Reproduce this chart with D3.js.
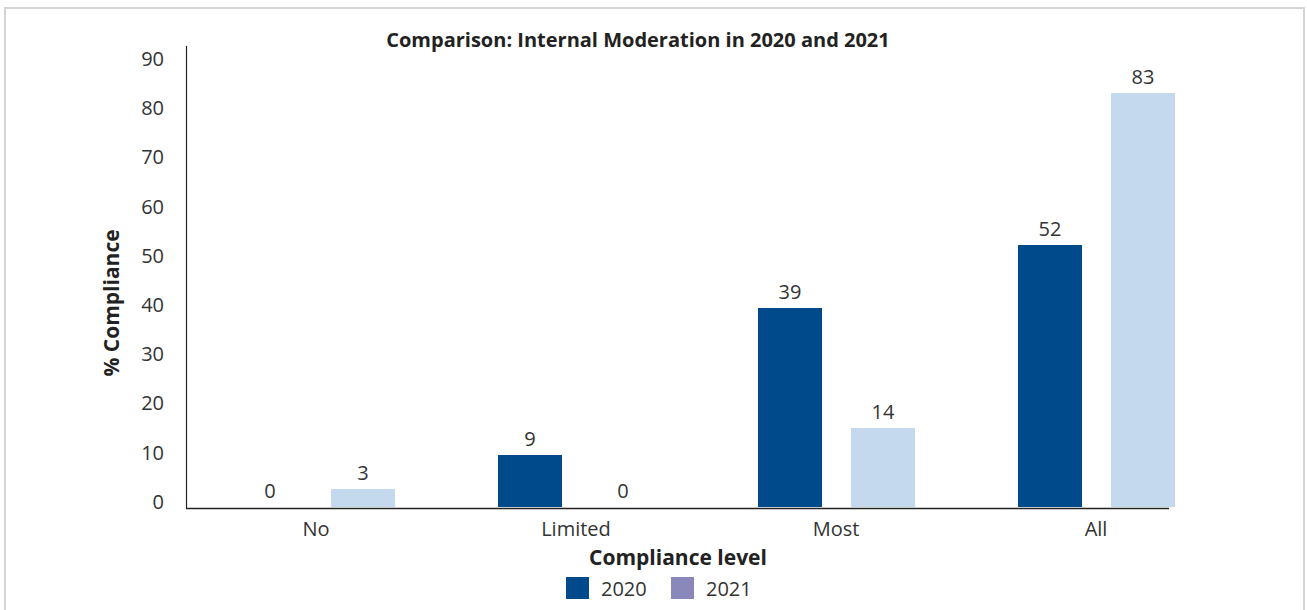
<!DOCTYPE html>
<html>
<head>
<meta charset="utf-8">
<script src="https://cdn.jsdelivr.net/npm/d3@7"></script>
<style>
  body { margin: 0; background: #fff; }
  svg { display: block; font-family: 'Open Sans', sans-serif; }
  .tick text { fill: #333; }
</style>
</head>
<body>
<svg width="1307" height="610"></svg>
<script>
const categories = ['No', 'Limited', 'Most', 'All']
const years = ['2020', '2021']
// bar heights as drawn in the original (labels there are rounded differently)
const values2020 = [0, 10.4, 39.8, 52.4]
const values2021 = [3.6, 0, 15.8, 82.8]
// printed data labels
const labels2020 = [0, 9, 39, 52]
const labels2021 = [3, 0, 14, 83]
const yTicks = [0, 10, 20, 30, 40, 50, 60, 70, 80, 90]

const colors = { '2020': '#004a8c', '2021': '#c5d9ee' }
const legendColors = { '2020': '#004a8c', '2021': '#8a88ba' }

const svg = d3.select('svg')

// outer frame
svg.append('rect')
  .attr('x', 5).attr('y', 8)
  .attr('width', 1299).attr('height', 620)
  .attr('fill', 'none')
  .attr('stroke', '#d4d4d4')
  .attr('stroke-width', 2)

const xScale = d3.scaleBand()
  .domain(categories)
  .range([186, 1226])

const xInner = d3.scaleBand()
  .domain(years)
  .range([52, 209])
  .paddingInner(29 / 93)

const yScale = d3.scaleLinear()
  .domain([0, 90])
  .range([507, 57])

// tick labels in the original sit a little above their gridline values
const yLabelScale = d3.scaleLinear()
  .domain([0, 90])
  .range([502, 59])

const data = categories.map((c, i) => ({
  category: c,
  values: [
    { year: '2020', value: values2020[i], label: labels2020[i] },
    { year: '2021', value: values2021[i], label: labels2021[i] }
  ]
}))

// y axis
const yAxis = d3.axisLeft(yLabelScale)
  .tickValues(yTicks)
  .tickSize(0)
  .tickPadding(22)

const yAxisGroup = svg.append('g')
  .attr('transform', 'translate(186,0)')
  .call(yAxis)
yAxisGroup.select('.domain').remove()
yAxisGroup.selectAll('.tick text')
  .attr('font-size', 20)
  .attr('font-family', "'Open Sans', sans-serif")

svg.append('line')
  .attr('x1', 186.5).attr('x2', 186.5)
  .attr('y1', 46).attr('y2', 508)
  .attr('stroke', '#222').attr('stroke-width', 1.2)

// bars
const groups = svg.selectAll('.group')
  .data(data)
  .join('g')
  .attr('class', 'group')
  .attr('transform', d => `translate(${xScale(d.category)},0)`)

groups.selectAll('rect')
  .data(d => d.values)
  .join('rect')
  .attr('x', d => xInner(d.year))
  .attr('width', xInner.bandwidth())
  .attr('y', d => yScale(d.value))
  .attr('height', d => yScale(0) - yScale(d.value))
  .attr('fill', d => colors[d.year])

groups.selectAll('.label')
  .data(d => d.values)
  .join('text')
  .attr('class', 'label')
  .attr('x', d => xInner(d.year) + xInner.bandwidth() / 2)
  .attr('y', d => yScale(d.value) - 9)
  .attr('text-anchor', 'middle')
  .attr('font-size', 20)
  .attr('fill', '#333')
  .text(d => d.label)

// x axis
const xAxis = d3.axisBottom(xScale)
  .tickSize(0)
  .tickPadding(14)

const xAxisGroup = svg.append('g')
  .attr('transform', 'translate(0,508)')
  .call(xAxis)
xAxisGroup.select('.domain').remove()
xAxisGroup.selectAll('.tick text')
  .attr('font-size', 20)
  .attr('font-family', "'Open Sans', sans-serif")

svg.append('line')
  .attr('x1', 186).attr('x2', 1169)
  .attr('y1', 508.5).attr('y2', 508.5)
  .attr('stroke', '#222').attr('stroke-width', 1.5)

// titles
svg.append('text')
  .attr('x', 638).attr('y', 47)
  .attr('text-anchor', 'middle')
  .attr('font-size', 20)
  .attr('font-weight', 'bold')
  .attr('fill', '#222')
  .text('Comparison: Internal Moderation in 2020 and 2021')

svg.append('text')
  .attr('transform', 'translate(119,303) rotate(-90)')
  .attr('text-anchor', 'middle')
  .attr('font-size', 21)
  .attr('font-weight', 'bold')
  .attr('fill', '#222')
  .text('% Compliance')

svg.append('text')
  .attr('x', 678).attr('y', 565)
  .attr('text-anchor', 'middle')
  .attr('font-size', 21)
  .attr('font-weight', 'bold')
  .attr('fill', '#222')
  .text('Compliance level')

// legend
const legendX = { '2020': 566, '2021': 671 }
const legend = svg.selectAll('.legend')
  .data(years)
  .join('g')
  .attr('class', 'legend')
  .attr('transform', d => `translate(${legendX[d]},577)`)

legend.append('rect')
  .attr('width', 23).attr('height', 22)
  .attr('fill', d => legendColors[d])

legend.append('text')
  .attr('x', 35).attr('y', 19)
  .attr('font-size', 20)
  .attr('fill', '#333')
  .text(d => d)
</script>
</body>
</html>
